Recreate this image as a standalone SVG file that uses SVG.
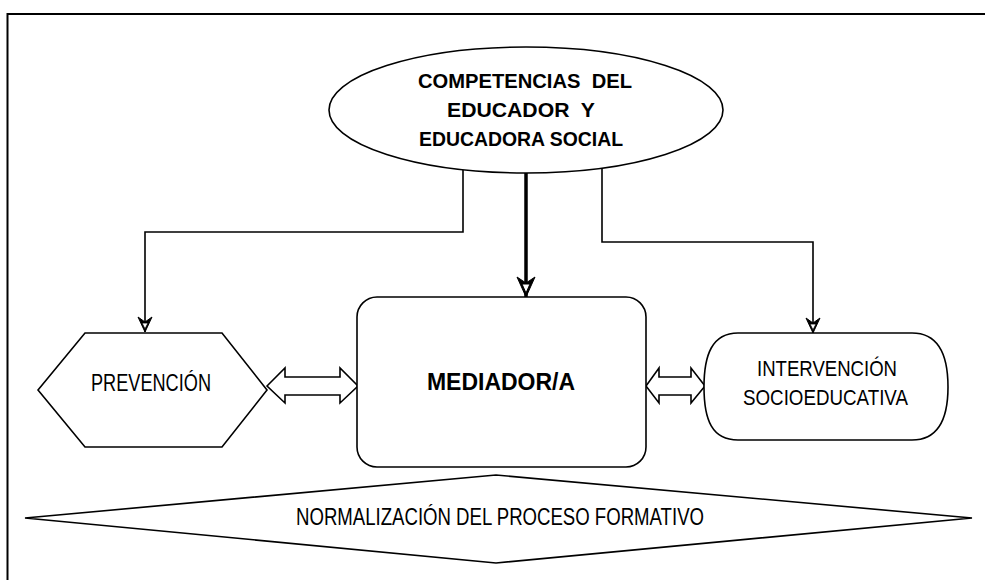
<svg xmlns="http://www.w3.org/2000/svg" width="985" height="580" viewBox="0 0 985 580">
<defs>
<style>
.sh{fill:#fff;stroke:#000;stroke-width:1.6}
.ln{fill:none;stroke:#000;stroke-width:1.6}
.bt{font-family:"Liberation Sans",Arial,sans-serif;font-weight:bold;fill:#000;white-space:pre}
.nt{font-family:"Liberation Sans",Arial,sans-serif;fill:#000}
</style>
<marker id="ah" viewBox="-21 -10 22 20" refX="0" refY="0" markerWidth="22" markerHeight="20" markerUnits="userSpaceOnUse" orient="auto">
<path d="M-20,-9 L0,0 L-20,9 L-14,0 Z" fill="#000" stroke="#000" stroke-width="1"/>
<path d="M-13,-4 L-13,4 L-4,0 Z" fill="#fff" stroke="#000" stroke-width="1"/>
</marker>
<marker id="ahs" viewBox="-16 -8 17 16" refX="0" refY="0" markerWidth="17" markerHeight="16" markerUnits="userSpaceOnUse" orient="auto">
<path d="M-15,-7 L0,0 L-15,7 L-10,0 Z" fill="#000" stroke="#000" stroke-width="1"/>
<path d="M-9,-3 L-9,3 L-3,0 Z" fill="#fff" stroke="#000" stroke-width="0.8"/>
</marker>
</defs>
<rect width="985" height="580" fill="#fff"/>
<g id="frame">
<path d="M7.5,580 V14 H985" fill="none" stroke="#000" stroke-width="2"/>
</g>
<g id="connectors">
<path class="ln" d="M463,170 V232 H145 V332" marker-end="url(#ahs)"/>
<path d="M526,173 V297" fill="none" stroke="#000" stroke-width="3.5" marker-end="url(#ah)"/>
<path class="ln" d="M602,168 V242 H813 V333" marker-end="url(#ahs)"/>
<path class="sh" d="M267,386 L285,368 L285,377 L340,377 L340,368 L358,386 L340,403 L340,395 L285,395 L285,403 Z"/>
<path class="sh" d="M646,386 L659,368 L659,377 L691,377 L691,368 L705,386 L691,403 L691,395 L659,395 L659,403 Z"/>
</g>
<g id="competencias">
<ellipse class="sh" cx="526" cy="110" rx="197" ry="63"/>
<text class="bt" x="418" y="88" font-size="21" textLength="214" lengthAdjust="spacingAndGlyphs">COMPETENCIAS  DEL</text>
<text class="bt" x="447" y="117" font-size="21" textLength="148" lengthAdjust="spacingAndGlyphs">EDUCADOR  Y</text>
<text class="bt" x="419" y="146" font-size="21" textLength="204" lengthAdjust="spacingAndGlyphs">EDUCADORA SOCIAL</text>
</g>
<g id="prevencion">
<polygon class="sh" points="38,390 85,333 222,333 267,390 222,447 85,447"/>
<text class="nt" x="91" y="391" font-size="23" textLength="120" lengthAdjust="spacingAndGlyphs">PREVENCIÓN</text>
</g>
<g id="mediador">
<rect class="sh" x="357" y="297" width="289" height="170" rx="20" ry="20"/>
<text class="bt" x="501" y="390" font-size="23" text-anchor="middle">MEDIADOR/A</text>
</g>
<g id="intervencion">
<path class="sh" d="M738,333 H912 C938,333 948,355 948,387 C948,420 938,440 912,440 H738 C712,440 704,420 704,387 C704,355 712,333 738,333 Z"/>
<text class="nt" x="757" y="376" font-size="22" textLength="140" lengthAdjust="spacingAndGlyphs">INTERVENCIÓN</text>
<text class="nt" x="743" y="405" font-size="22" textLength="165" lengthAdjust="spacingAndGlyphs">SOCIOEDUCATIVA</text>
</g>
<g id="normalizacion">
<polygon class="sh" points="25,518 496,475 972,518 496,563"/>
<text class="nt" x="296" y="525" font-size="23" textLength="408" lengthAdjust="spacingAndGlyphs">NORMALIZACIÓN DEL PROCESO FORMATIVO</text>
</g>
</svg>
